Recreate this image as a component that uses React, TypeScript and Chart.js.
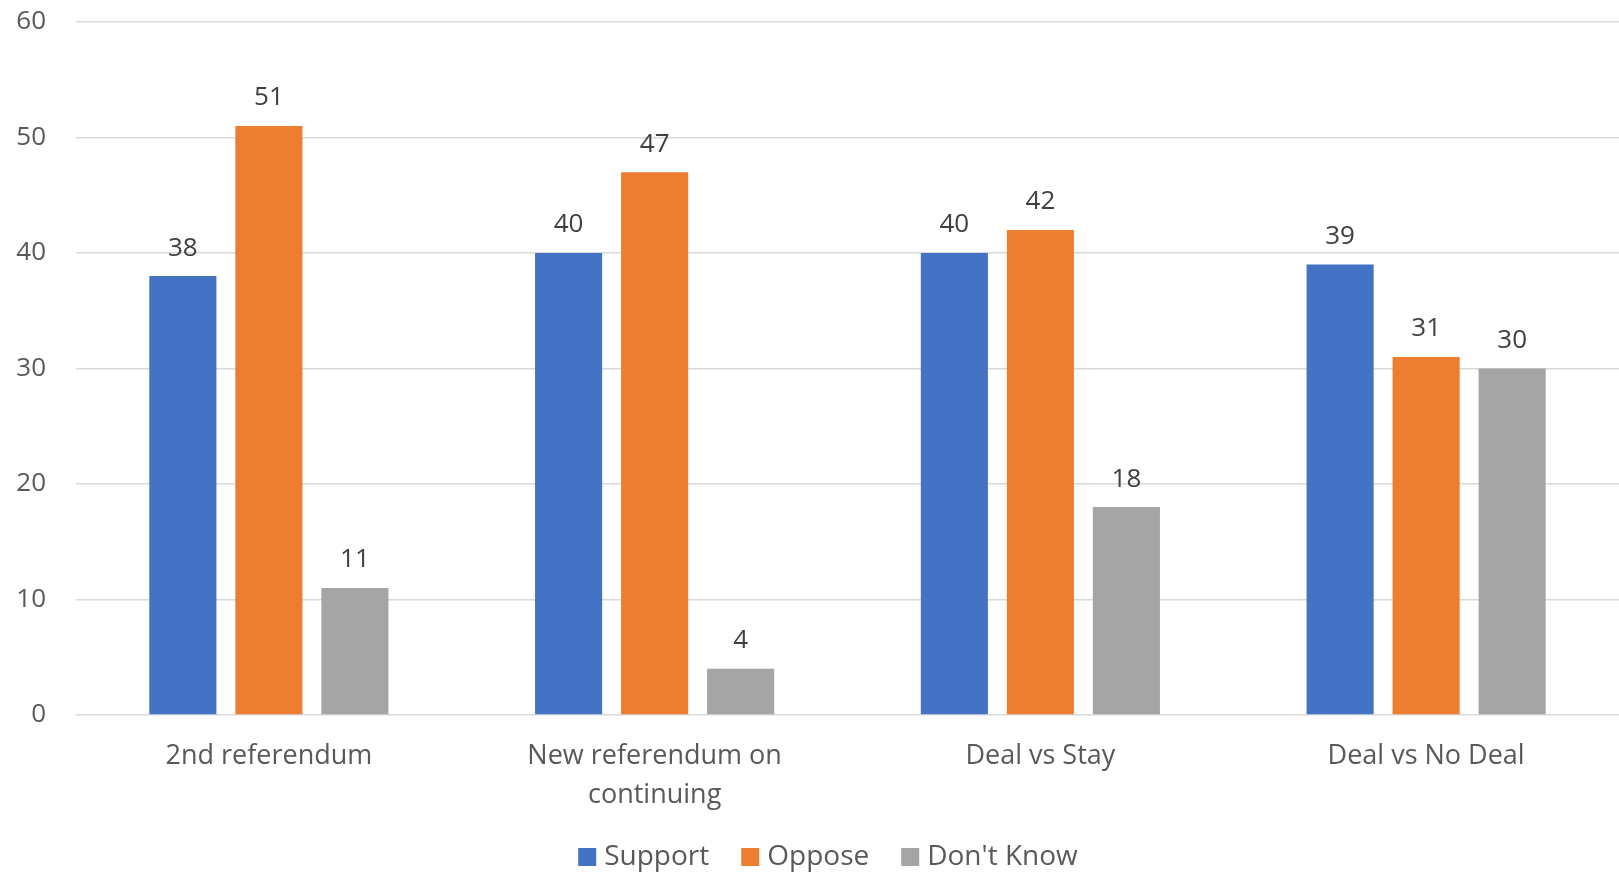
import React, { useEffect, useRef } from "react";
import { Chart, registerables } from "chart.js";

Chart.register(...registerables);

const categories: string[][] = [
  ["2nd referendum"],
  ["New referendum on", "continuing"],
  ["Deal vs Stay"],
  ["Deal vs No Deal"],
];
const seriesNames = ["Support", "Oppose", "Don't Know"];
const supportValues = [38, 40, 40, 39];
const opposeValues = [51, 47, 42, 31];
const dontKnowValues = [11, 4, 18, 30];
const seriesColors = ["#4472C4", "#ED7D31", "#A5A5A5"];
const yMin = 0;
const yMax = 60;
const yStep = 10;

const FONT = "'Open Sans', 'DejaVu Sans', sans-serif";
const TEXT_COLOR = "#595959";

const dataLabelPlugin = {
  id: "dataLabels",
  afterDatasetsDraw(chart: any) {
    const ctx = chart.ctx;
    ctx.save();
    ctx.font = `26px ${FONT}`;
    ctx.fillStyle = "#404040";
    ctx.textAlign = "center";
    ctx.textBaseline = "middle";
    chart.data.datasets.forEach((ds: any, i: number) => {
      const meta = chart.getDatasetMeta(i);
      meta.data.forEach((el: any, j: number) => {
        ctx.fillText(String(ds.data[j]), el.x, el.y - 28);
      });
    });
    ctx.restore();
  },
};

const legendPlugin = {
  id: "customLegend",
  afterDraw(chart: any) {
    const ctx = chart.ctx;
    ctx.save();
    ctx.font = `28px ${FONT}`;
    ctx.textBaseline = "middle";
    ctx.textAlign = "left";
    const boxSize = 18;
    const boxGap = 8;
    const itemGap = 32;
    const centerX = 828;
    const centerY = 857;
    const items = chart.data.datasets.map((ds: any) => ({
      label: ds.label,
      color: ds.backgroundColor,
      w: ctx.measureText(ds.label).width,
    }));
    const total =
      items.reduce((s: number, it: any) => s + it.w + boxSize + boxGap, 0) +
      (items.length - 1) * itemGap;
    let x = centerX - total / 2;
    items.forEach((it: any) => {
      ctx.fillStyle = it.color;
      ctx.fillRect(x, centerY - boxSize / 2, boxSize, boxSize);
      x += boxSize + boxGap;
      ctx.fillStyle = TEXT_COLOR;
      ctx.fillText(it.label, x, centerY);
      x += it.w + itemGap;
    });
    ctx.restore();
  },
};

export default function App() {
  const canvasRef = useRef<HTMLCanvasElement | null>(null);

  useEffect(() => {
    if (!canvasRef.current) return;
    const valueLists = [supportValues, opposeValues, dontKnowValues];
    const chart = new Chart(canvasRef.current, {
      type: "bar",
      data: {
        labels: categories as any,
        datasets: seriesNames.map((name, i) => ({
          label: name,
          data: valueLists[i],
          backgroundColor: seriesColors[i],
          borderWidth: 0,
          categoryPercentage: 0.669,
          barPercentage: 0.78,
        })),
      },
      options: {
        animation: false,
        responsive: true,
        maintainAspectRatio: false,
        layout: { padding: { top: 22, left: 0, right: 0, bottom: 51 } },
        plugins: {
          tooltip: { enabled: false },
          legend: { display: false },
        },
        scales: {
          x: {
            grid: { display: false, drawTicks: false },
            border: { display: false },
            ticks: {
              color: TEXT_COLOR,
              padding: 22,
              maxRotation: 0,
              autoSkip: false,
              font: { family: FONT, size: 27, lineHeight: 1.45 },
            },
            afterFit(scale: any) {
              scale.height = 108;
            },
          },
          y: {
            min: yMin,
            max: yMax,
            ticks: {
              stepSize: yStep,
              color: TEXT_COLOR,
              padding: 30,
              font: { family: FONT, size: 26 },
            },
            grid: { color: "#d9d9d9", lineWidth: 1.5, drawTicks: false },
            border: { display: false },
            afterFit(scale: any) {
              scale.width = 76;
              scale.paddingTop = 0;
              scale.paddingBottom = 0;
            },
          },
        },
      },
      plugins: [dataLabelPlugin, legendPlugin],
    });
    return () => chart.destroy();
  }, []);

  return (
    <div
      style={{
        position: "fixed",
        left: 0,
        top: 0,
        width: 1619,
        height: 874,
        background: "#ffffff",
      }}
    >
      <canvas ref={canvasRef} />
    </div>
  );
}
